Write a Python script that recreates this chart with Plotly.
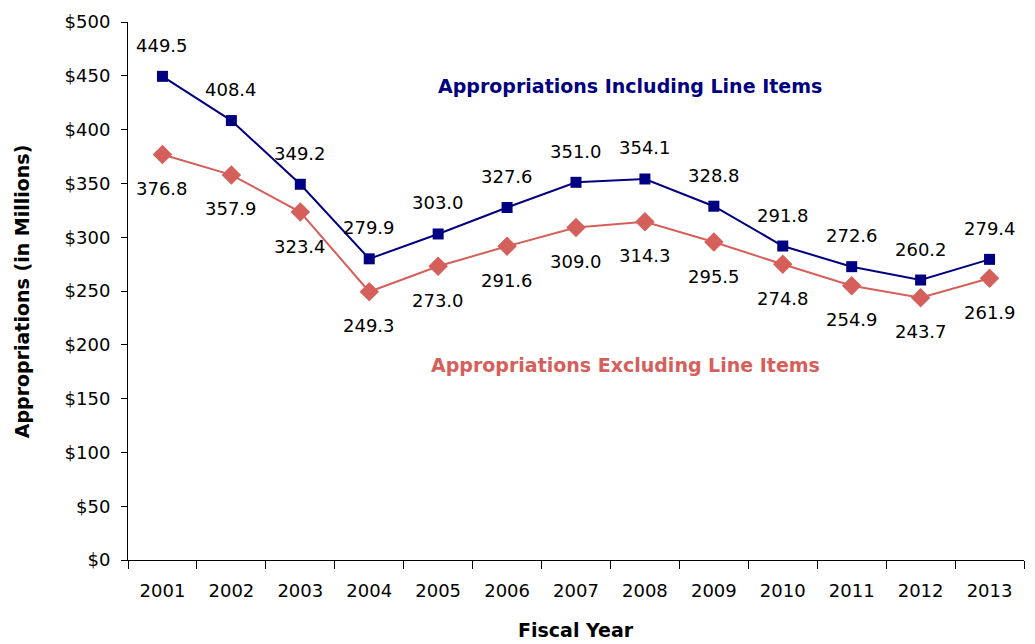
import plotly.graph_objects as go

years = ["2001", "2002", "2003", "2004", "2005", "2006", "2007",
         "2008", "2009", "2010", "2011", "2012", "2013"]
including = [449.5, 408.4, 349.2, 279.9, 303.0, 327.6, 351.0,
             354.1, 328.8, 291.8, 272.6, 260.2, 279.4]
excluding = [376.8, 357.9, 323.4, 249.3, 273.0, 291.6, 309.0,
             314.3, 295.5, 274.8, 254.9, 243.7, 261.9]
y_ticks = list(range(0, 501, 50))
y_tick_labels = ["$" + str(v) for v in y_ticks]

NAVY = "#000080"
RED = "#D5605B"
FONT = "DejaVu Sans"

fig = go.Figure()
fig.add_trace(go.Scatter(
    x=years, y=including, mode="lines+markers",
    line=dict(color=NAVY, width=2),
    marker=dict(symbol="square", size=11, color=NAVY),
    hoverinfo="skip", showlegend=False))
fig.add_trace(go.Scatter(
    x=years, y=excluding, mode="lines+markers",
    line=dict(color=RED, width=2),
    marker=dict(symbol="diamond", size=15, color=RED),
    hoverinfo="skip", showlegend=False))

annotations = []
for i, v in enumerate(including):
    annotations.append(dict(x=i, y=v, xref="x", yref="y", text=f"{v:.1f}",
                            showarrow=False, yshift=31,
                            font=dict(family=FONT, size=18, color="#000000")))
for i, v in enumerate(excluding):
    annotations.append(dict(x=i, y=v, xref="x", yref="y", text=f"{v:.1f}",
                            showarrow=False, yshift=-34,
                            font=dict(family=FONT, size=18, color="#000000")))

annotations.append(dict(x=0.560, y=0.881, xref="paper", yref="paper",
                        text="<b>Appropriations Including Line Items</b>",
                        showarrow=False, xanchor="center", yanchor="middle",
                        font=dict(family=FONT, size=19, color=NAVY)))
annotations.append(dict(x=0.555, y=0.362, xref="paper", yref="paper",
                        text="<b>Appropriations Excluding Line Items</b>",
                        showarrow=False, xanchor="center", yanchor="middle",
                        font=dict(family=FONT, size=19, color=RED)))

annotations.append(dict(x=-0.118, y=0.5, xref="paper", yref="paper",
                        text="<b>Appropriations (in Millions)</b>", textangle=-90,
                        showarrow=False, xanchor="center", yanchor="middle",
                        font=dict(family=FONT, size=19, color="#000000")))
annotations.append(dict(x=0.5, y=-0.131, xref="paper", yref="paper",
                        text="<b>Fiscal Year</b>", showarrow=False,
                        xanchor="center", yanchor="middle",
                        font=dict(family=FONT, size=19, color="#000000")))

fig.update_layout(
    width=1035, height=644,
    margin=dict(l=128, r=11, t=19, b=84),
    paper_bgcolor="white", plot_bgcolor="white",
    font=dict(family=FONT, size=18, color="#000000"),
    annotations=annotations,
)
fig.update_xaxes(
    type="category", range=[-0.5, 12.5],
    showline=True, linecolor="black", linewidth=1,
    ticks="outside", tickson="boundaries", ticklen=8, tickcolor="black",
    showgrid=False, zeroline=False, ticklabelstandoff=14,
    tickfont=dict(family=FONT, size=18),
)
fig.update_yaxes(
    range=[0, 500], tickvals=y_ticks, ticktext=y_tick_labels,
    showline=True, linecolor="black", linewidth=1,
    ticks="outside", ticklen=6, tickcolor="black",
    showgrid=False, zeroline=False, ticklabelstandoff=7,
    tickfont=dict(family=FONT, size=18),
)

fig.write_html("out.html")
